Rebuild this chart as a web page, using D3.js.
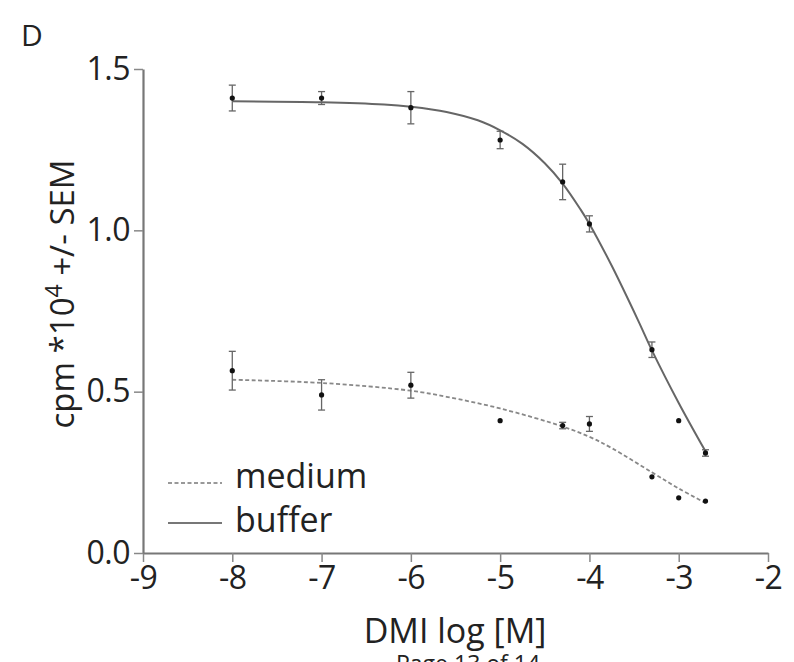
<!DOCTYPE html>
<html>
<head>
<meta charset="utf-8">
<script src="https://cdn.jsdelivr.net/npm/d3@7"></script>
<style>
  body { margin: 0; background: #fff; }
  svg text { font-family: "Open Sans", "Noto Sans", sans-serif; fill: #222; }
</style>
</head>
<body>
<svg id="chart" width="794" height="662"></svg>
<script>
// measured points (log of DMI concentration)
var concLog = [-8, -7, -6, -5, -4.3, -4, -3.3, -3, -2.7];
var bufferMean = [1.41, 1.41, 1.38, 1.28, 1.15, 1.02, 0.63, 0.41, 0.31];
var bufferSem = [0.04, 0.02, 0.05, 0.027, 0.055, 0.025, 0.024, 0, 0.01];
var mediumMean = [0.565, 0.49, 0.52, 0.41, 0.395, 0.40, 0.236, 0.171, 0.161];
var mediumSem = [0.06, 0.047, 0.04, 0, 0.01, 0.023, 0, 0, 0];

// fitted curves
var bufferFitX = [-8, -7, -6.3, -6, -5.6, -5.25, -5, -4.75, -4.5, -4.3, -4.1, -4, -3.75, -3.45, -3.3, -3, -2.7];
var bufferFitY = [1.40, 1.397, 1.39, 1.383, 1.367, 1.341, 1.31, 1.268, 1.208, 1.145, 1.065, 1.02, 0.89, 0.718, 0.628, 0.465, 0.315];
var mediumFitX = [-8, -7, -6, -5.6, -5, -4.3, -4, -3.75, -3.3, -3, -2.7];
var mediumFitY = [0.537, 0.527, 0.503, 0.484, 0.448, 0.392, 0.36, 0.325, 0.25, 0.2, 0.155];

var xTicks = [-9, -8, -7, -6, -5, -4, -3, -2];
var yTicks = [0, 0.5, 1.0, 1.5];
var seriesNames = ["medium", "buffer"];

var svg = d3.select("#chart");

var x = d3.scaleLinear().domain([-9, -2]).range([143, 768]);
var y = d3.scaleLinear().domain([0, 1.5]).range([553, 69]);

// axes (plain hyphen for the minus sign, as in the figure)
var xAxis = svg.append("g")
    .attr("transform", "translate(0," + y(0) + ")")
    .call(d3.axisBottom(x).tickValues(xTicks).tickFormat(function(d) { return String(d); })
        .tickSize(9).tickSizeOuter(0).tickPadding(4));
var yAxis = svg.append("g")
    .attr("transform", "translate(" + x(-9) + ",0)")
    .call(d3.axisLeft(y).tickValues(yTicks).tickFormat(function(d) { return d.toFixed(1); })
        .tickSize(9).tickSizeOuter(0).tickPadding(4));

[xAxis, yAxis].forEach(function(a) {
    a.select(".domain").attr("stroke", "#777").attr("stroke-width", 2.2);
    a.selectAll(".tick line").attr("stroke", "#888").attr("stroke-width", 1.5);
    a.selectAll(".tick text").style("font-size", "32px").attr("fill", "#222")
        .style("letter-spacing", "-0.5px");
});

// curves
var line = d3.line()
    .x(function(d) { return x(d[0]); })
    .y(function(d) { return y(d[1]); })
    .curve(d3.curveCatmullRom);

svg.append("path")
    .datum(bufferFitX.map(function(v, i) { return [v, bufferFitY[i]]; }))
    .attr("d", line)
    .attr("fill", "none")
    .attr("stroke", "#666")
    .attr("stroke-width", 2);

svg.append("path")
    .datum(mediumFitX.map(function(v, i) { return [v, mediumFitY[i]]; }))
    .attr("d", line)
    .attr("fill", "none")
    .attr("stroke", "#888")
    .attr("stroke-width", 1.8)
    .attr("stroke-dasharray", "4,2.5");

// error bars + points
function drawSeries(means, sems) {
    var data = concLog.map(function(c, i) { return { x: c, m: means[i], s: sems[i] }; });
    var eb = svg.append("g").selectAll("g")
        .data(data.filter(function(d) { return d.s > 0; }))
        .enter().append("g")
        .attr("stroke", "#666")
        .attr("stroke-width", 1.3);
    eb.append("line")
        .attr("x1", function(d) { return x(d.x); })
        .attr("x2", function(d) { return x(d.x); })
        .attr("y1", function(d) { return y(d.m - d.s); })
        .attr("y2", function(d) { return y(d.m + d.s); });
    [-1, 1].forEach(function(k) {
        eb.append("line")
            .attr("x1", function(d) { return x(d.x) - 3.5; })
            .attr("x2", function(d) { return x(d.x) + 3.5; })
            .attr("y1", function(d) { return y(d.m + k * d.s); })
            .attr("y2", function(d) { return y(d.m + k * d.s); });
    });
    svg.append("g").selectAll("circle")
        .data(data)
        .enter().append("circle")
        .attr("cx", function(d) { return x(d.x); })
        .attr("cy", function(d) { return y(d.m); })
        .attr("r", 2.6)
        .attr("fill", "#111");
}
drawSeries(bufferMean, bufferSem);
drawSeries(mediumMean, mediumSem);

// legend
var legend = svg.append("g");
legend.selectAll("line")
    .data(seriesNames)
    .enter().append("line")
    .attr("x1", 168).attr("x2", 222)
    .attr("y1", function(d, i) { return 483 + i * 40; })
    .attr("y2", function(d, i) { return 483 + i * 40; })
    .attr("stroke", function(d) { return d == "medium" ? "#999" : "#777"; })
    .attr("stroke-width", function(d) { return d == "medium" ? 1.8 : 2.2; })
    .attr("stroke-dasharray", function(d) { return d == "medium" ? "4,2.5" : null; });
legend.selectAll("text")
    .data(seriesNames)
    .enter().append("text")
    .attr("x", 235)
    .attr("y", function(d, i) { return 488 + i * 44; })
    .style("font-size", "34px")
    .text(function(d) { return d; });

// labels
svg.append("text")
    .attr("x", 455).attr("y", 643)
    .attr("text-anchor", "middle")
    .style("font-size", "34px")
    .text("DMI log [M]");

var yl = svg.append("text")
    .attr("transform", "translate(74,294) rotate(-90)")
    .attr("text-anchor", "middle")
    .style("font-size", "33px");
yl.append("tspan").text("cpm *10");
yl.append("tspan").attr("dy", -12).style("font-size", "23px").text("4");
yl.append("tspan").attr("dy", 12).text(" +/- SEM");

svg.append("text")
    .attr("x", 21).attr("y", 46)
    .style("font-size", "30px")
    .text("D");

svg.append("text")
    .attr("x", 396).attr("y", 672)
    .style("font-size", "23px")
    .text("Page 13 of 14");
</script>
</body>
</html>
